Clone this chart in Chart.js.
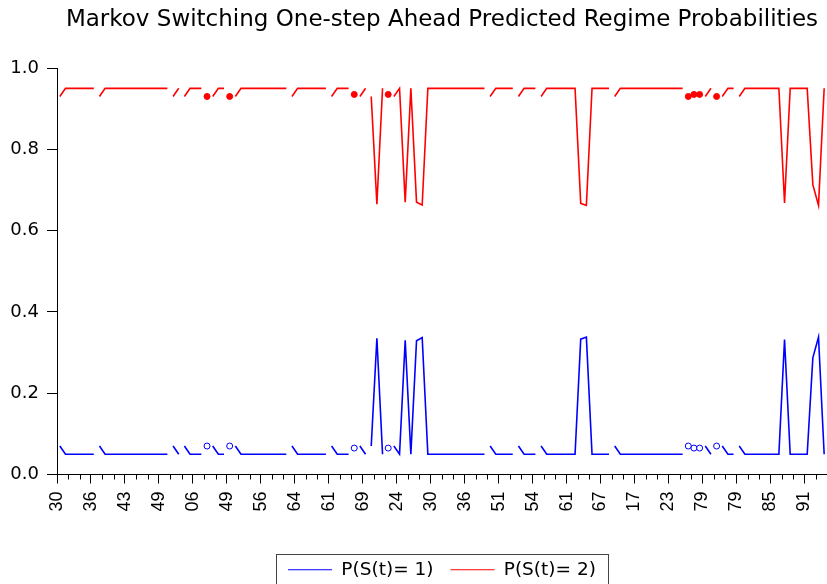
<!DOCTYPE html>
<html lang="en">
<head>
<meta charset="UTF-8">
<title>Markov Switching One-step Ahead Predicted Regime Probabilities</title>
<script src="https://cdn.jsdelivr.net/npm/chart.js"></script>
<style>
  html, body { margin: 0; padding: 0; background: #fff; }
</style>
</head>
<body>
<canvas id="regimeChart" width="827" height="584"></canvas>
<script>
// label under every 6th observation
const xTickLabels = ['30', '36', '43', '49', '06', '49', '56', '64', '61', '69', '24', '30',
                     '36', '51', '54', '61', '67', '17', '23', '79', '79', '85', '91'];

// one-step ahead predicted probabilities, 136 observations
const probRegime1 = [
  .07, .05, .05, .05, .05, .05, .05, .07, .05, .05, .05, .05,
  .05, .05, .05, .05, .05, .05, .05, .05, .07, .05, .07, .05,
  .05, .05, .07, .07, .05, .05, .07, .07, .05, .05, .05, .05,
  .05, .05, .05, .05, .05, .07, .05, .05, .05, .05, .05, .05,
  .07, .05, .05, .05, .065, .07, .05, .07, .335, .05, .065, .07,
  .05, .33, .05, .329, .337, .05, .05, .05, .05, .05, .05, .05,
  .05, .05, .05, .05, .07, .05, .05, .05, .05, .07, .05, .05,
  .05, .07, .05, .05, .05, .05, .05, .05, .333, .338, .05, .05,
  .05, .05, .07, .05, .05, .05, .05, .05, .05, .05, .05, .05,
  .05, .05, .05, .07, .065, .065, .07, .05, .07, .07, .05, .05,
  .07, .05, .05, .05, .05, .05, .05, .05, .332, .05, .05, .05,
  .05, .287, .338, .05
];
const probRegime2 = [
  .93, .95, .95, .95, .95, .95, .95, .93, .95, .95, .95, .95,
  .95, .95, .95, .95, .95, .95, .95, .95, .93, .95, .93, .95,
  .95, .95, .93, .93, .95, .95, .93, .93, .95, .95, .95, .95,
  .95, .95, .95, .95, .95, .93, .95, .95, .95, .95, .95, .95,
  .93, .95, .95, .95, .935, .93, .95, .93, .665, .95, .935, .93,
  .95, .67, .95, .67, .663, .95, .95, .95, .95, .95, .95, .95,
  .95, .95, .95, .95, .93, .95, .95, .95, .95, .93, .95, .95,
  .95, .93, .95, .95, .95, .95, .95, .95, .667, .662, .95, .95,
  .95, .95, .93, .95, .95, .95, .95, .95, .95, .95, .95, .95,
  .95, .95, .95, .93, .935, .935, .93, .95, .93, .93, .95, .95,
  .93, .95, .95, .95, .95, .95, .95, .95, .668, .95, .95, .95,
  .95, .713, .662, .95
];
// observations where the line starts again after a break
const runStarts = [0, 7, 20, 22, 26, 27, 30, 31, 41, 48, 52, 53, 55, 58, 59,
                   76, 81, 85, 98, 111, 112, 113, 114, 116, 117, 120];

const BLUE = '#0000ff';
const RED = '#ff0000';

function isolated(i) {
  return runStarts.includes(i) && (runStarts.includes(i + 1) || i === probRegime1.length - 1);
}

function toPoints(vals) {
  // each observation sits in the middle of its slot
  return vals.map((v, i) => ({ x: i + 0.5, y: v }));
}

function series(label, vals, color, dotFill) {
  return {
    label: label,
    data: toPoints(vals),
    borderColor: color,
    backgroundColor: color,
    borderWidth: 1.6,
    pointRadius: ctx => isolated(ctx.dataIndex) ? 3 : 0,
    pointHoverRadius: 0,
    pointBorderWidth: 1,
    pointBorderColor: color,
    pointBackgroundColor: dotFill,
    tension: 0,
    segment: {
      borderColor: ctx => runStarts.includes(ctx.p1DataIndex) ? 'rgba(0,0,0,0)' : color
    }
  };
}

const extras = {
  id: 'extras',
  afterLayout(chart) {
    // title and legend are centred under the plot area, not the canvas
    const a = chart.chartArea;
    const mid = (a.left + a.right) / 2;
    for (const box of [chart.titleBlock, chart.legend]) {
      const shift = mid - (box.left + box.right) / 2;
      box.left += shift;
      box.right += shift;
    }
    chart.legend.top += 5;
    chart.legend.bottom += 5;
  },
  afterDraw(chart) {
    const ctx = chart.ctx;
    const xs = chart.scales.x;
    const ys = chart.scales.y;
    ctx.save();
    ctx.strokeStyle = '#000';
    ctx.lineWidth = 1;
    ctx.beginPath();
    for (let v = 2; v <= xs.max; v += 2) {
      if (v % 6 === 0) continue;
      const px = Math.round(xs.getPixelForValue(v)) + 0.5;
      ctx.moveTo(px, ys.bottom);
      ctx.lineTo(px, ys.bottom + 5);
    }
    ctx.stroke();

    // frame round the legend
    const hb = chart.legend.legendHitBoxes;
    if (hb && hb.length) {
      const first = hb[0];
      const last = hb[hb.length - 1];
      const left = first.left - 12;
      const right = last.left + last.width + 12;
      const top = first.top - 7;
      ctx.strokeStyle = '#444';
      ctx.strokeRect(Math.round(left) + 0.5, Math.round(top) + 0.5,
                     Math.round(right - left), chart.height - top + 5);
    }
    ctx.restore();
  }
};

new Chart(document.getElementById('regimeChart'), {
  type: 'line',
  data: {
    datasets: [
      series('P(S(t)= 1)', probRegime1, BLUE, '#ffffff'),
      series('P(S(t)= 2)', probRegime2, RED, RED)
    ]
  },
  options: {
    responsive: false,
    animation: false,
    events: [],
    layout: { padding: 0 },
    plugins: {
      title: {
        display: true,
        text: 'Markov Switching One-step Ahead Predicted Regime Probabilities',
        color: '#000',
        font: { family: 'DejaVu Sans', size: 23, weight: 'normal' },
        padding: { top: 6, bottom: 34.4 }
      },
      legend: {
        position: 'bottom',
        labels: {
          color: '#000',
          font: { family: 'DejaVu Sans', size: 18.5 },
          usePointStyle: true,
          pointStyle: 'line',
          pointStyleWidth: 44,
          boxWidth: 44,
          padding: 17
        }
      },
      tooltip: { enabled: false }
    },
    scales: {
      x: {
        type: 'linear',
        min: 0,
        max: 136,
        afterFit: s => { s.height = 64; s.paddingLeft = 0; s.paddingRight = 0; },
        border: { display: true, color: '#000', width: 1 },
        grid: { drawOnChartArea: false, drawTicks: true, tickLength: 9, color: '#000' },
        ticks: {
          stepSize: 6,
          includeBounds: false,
          autoSkip: false,
          minRotation: 90,
          maxRotation: 90,
          padding: 8,
          color: '#000',
          font: { family: 'Liberation Sans', size: 18 },
          callback: v => (v % 6 === 0 ? xTickLabels[v / 6] : '')
        }
      },
      y: {
        min: 0,
        max: 1,
        afterFit: s => { s.width = 57; },
        border: { display: true, color: '#000', width: 1 },
        grid: { drawOnChartArea: false, drawTicks: true, tickLength: 10, color: '#000' },
        ticks: {
          stepSize: 0.2,
          padding: 8,
          color: '#000',
          font: { family: 'DejaVu Sans', size: 18 },
          callback: v => v.toFixed(1)
        }
      }
    }
  },
  plugins: [extras]
});
</script>
</body>
</html>
